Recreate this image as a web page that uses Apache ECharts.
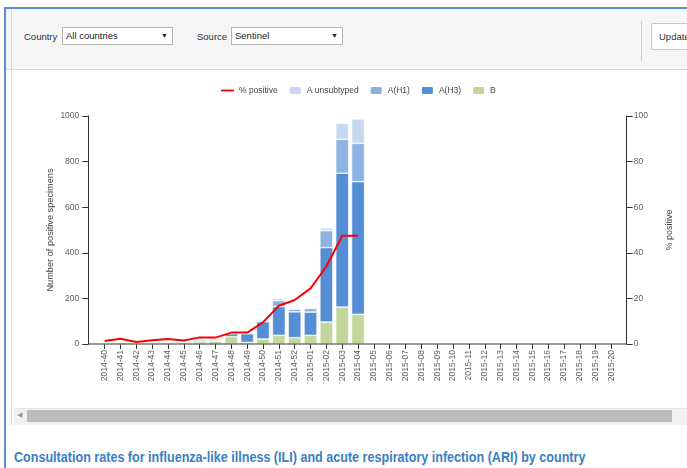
<!DOCTYPE html>
<html><head><meta charset="utf-8">
<script src="https://cdn.jsdelivr.net/npm/echarts@6/dist/echarts.min.js"></script>
<style>
html,body{margin:0;padding:0;width:687px;height:468px;overflow:hidden;background:#fff;font-family:"Liberation Sans",Arial,sans-serif;}
#frameTop{position:absolute;left:4px;top:7px;width:683px;height:2px;background:#5b8ed3;}
#frameLeft{position:absolute;left:4px;top:7px;width:2px;height:461px;background:#5b8ed3;}
#panel{position:absolute;left:11px;top:9px;width:680px;height:416px;border-left:1px solid #d9d9d9;background:#fff;}
#bar{position:absolute;left:6px;top:9px;width:681px;height:60px;background:#f6f6f6;border-bottom:1px solid #d9d9d9;}
#bar .inner{position:absolute;left:5px;top:0;width:1px;height:60px;background:#d9d9d9;}
.lbl{position:absolute;font-size:9.5px;color:#333;}
.sel{position:absolute;height:18px;background:#fff;border:1px solid #b5b5b5;box-sizing:border-box;font-size:9.5px;color:#222;line-height:16px;padding-left:3px;}
.sel span{position:absolute;right:4px;top:0;font-size:7px;}
#sep{position:absolute;left:641px;top:21px;width:1px;height:40px;background:#d0d0d0;}
#upd{position:absolute;left:651px;top:23px;width:50px;height:27px;background:#fff;border:1px solid #c8c8c8;box-sizing:border-box;font-size:9.5px;color:#333;line-height:25px;padding-left:7px;border-radius:2px;}
#track{position:absolute;left:14px;top:408px;width:673px;height:16px;background:#f1f1f1;border-top:1px solid #e6e6e6;}
#thumb{position:absolute;left:27px;top:410px;width:645px;height:12px;background:#bcbcbc;}
#arrow{position:absolute;left:17px;top:411px;font-size:7px;color:#999;}
#title{position:absolute;left:14px;top:449px;font-family:"Liberation Sans",sans-serif;font-weight:bold;font-size:14px;color:#3a80c3;white-space:nowrap;transform:scaleX(0.898);transform-origin:0 0;}
#chart{position:absolute;left:0;top:0;width:687px;height:468px;}
</style></head>
<body>
<div id="panel"></div>
<div id="bar"><div class="inner"></div></div>
<div id="frameTop"></div><div id="frameLeft"></div>
<div class="lbl" style="left:24px;top:31px;">Country</div>
<div class="sel" style="left:62px;top:27px;width:111px;">All countries<span>▼</span></div>
<div class="lbl" style="left:197px;top:31px;">Source</div>
<div class="sel" style="left:231px;top:27px;width:112px;">Sentinel<span>▼</span></div>
<div id="sep"></div>
<div id="upd">Update</div>
<div id="track"></div><div id="thumb"></div><div id="arrow">◀</div>
<div id="title">Consultation rates for influenza-like illness (ILI) and acute respiratory infection (ARI) by country</div>
<div id="chart"></div>
<script>
const weeks = ['2014-40','2014-41','2014-42','2014-43','2014-44','2014-45','2014-46','2014-47','2014-48','2014-49','2014-50','2014-51','2014-52',
  '2015-01','2015-02','2015-03','2015-04','2015-05','2015-06','2015-07','2015-08','2015-09','2015-10','2015-11','2015-12','2015-13','2015-14',
  '2015-15','2015-16','2015-17','2015-18','2015-19','2015-20'];
const typeB       = [0,1,1,1,2,2,10,13,32,7,22,38,28,38,96,162,130];
const typeAH3     = [4,5,4,5,6,6,7,4,13,38,76,126,113,102,327,587,582];
const typeAH1     = [0,2,1,2,2,2,3,6,4,2,7,26,12,16,74,149,168];
const typeAUnsub  = [0,0,0,0,0,0,0,0,1,0,3,10,4,4,12,70,107];
const pctPositive = [1.3,2.3,0.9,1.6,2.2,1.5,2.9,2.8,5,5,9.5,16.8,19.3,24.4,34,47.5,47.5];
const leftTicks = [0,200,400,600,800,1000];
const rightTicks = [0,20,40,60,80,100];

function pad(a){ const r = a.slice(); while (r.length < weeks.length) r.push(null); return r; }

const FONT = 'Liberation Sans';
const axisCol = '#333';
const labCol = '#606060';
const chart = echarts.init(document.getElementById('chart'), null, {renderer:'canvas'});
function barSeries(name, data, color){
  return {name:name, type:'bar', stack:'s', barWidth:13, data:pad(data),
    itemStyle:{color:color, borderColor:'#fff', borderWidth:0.6}, emphasis:{disabled:true}};
}
chart.setOption({
  animation:false,
  backgroundColor:'transparent',
  textStyle:{fontFamily:FONT},
  legend:{
    left:216, top:80, itemWidth:13, itemHeight:9, itemGap:10, symbolKeepAspect:true,
    textStyle:{fontSize:8.5, color:'#444', fontFamily:FONT},
    data:[{name:'% positive', icon:'path://M0,0h14v2H0z', itemStyle:{color:'#ff0000'}},'A unsubtyped','A(H1)','A(H3)','B']
  },
  grid:{left:96.7, right:67.6, top:116, bottom:124, containLabel:false},
  xAxis:{
    type:'category', data:weeks, boundaryGap:true,
    axisLine:{show:false},
    axisTick:{show:true, alignWithLabel:true, length:5, lineStyle:{color:axisCol}},
    axisLabel:{rotate:90, fontSize:8.5, color:labCol, margin:6, interval:0, fontFamily:FONT},
    splitLine:{show:false}
  },
  yAxis:[
    {type:'value', min:leftTicks[0], max:leftTicks[leftTicks.length-1], interval:200, offset:8.4,
     name:'Number of positive specimens', nameLocation:'middle', nameRotate:90, nameGap:33, nameMoveOverlap:false,
     nameTextStyle:{fontSize:9.2, color:'#444', fontFamily:FONT},
     axisLine:{show:true, lineStyle:{color:axisCol}},
     axisTick:{show:true, length:6, lineStyle:{color:axisCol}},
     axisLabel:{fontSize:8.5, color:labCol, margin:9, fontFamily:FONT, formatter:function(v){return String(v);}},
     splitLine:{show:false}},
    {type:'value', min:rightTicks[0], max:rightTicks[rightTicks.length-1], interval:20, offset:7.3, position:'right',
     name:'% positive', nameLocation:'middle', nameRotate:90, nameGap:38, nameMoveOverlap:false,
     nameTextStyle:{fontSize:9, color:'#444', fontFamily:FONT},
     axisLine:{show:true, lineStyle:{color:axisCol}},
     axisTick:{show:true, length:6, lineStyle:{color:axisCol}},
     axisLabel:{fontSize:8.5, color:labCol, margin:7, fontFamily:FONT, formatter:function(v){return String(v);}},
     splitLine:{show:false}}
  ],
  graphic:[{type:'line', shape:{x1:88.3, y1:344, x2:627, y2:344}, style:{stroke:axisCol, lineWidth:1}, silent:true, z:5}],
  series:[
    barSeries('B', typeB, '#c3d69b'),
    barSeries('A(H3)', typeAH3, '#558ed5'),
    barSeries('A(H1)', typeAH1, '#8db3e2'),
    barSeries('A unsubtyped', typeAUnsub, '#c6d9f1'),
    {name:'% positive', type:'line', yAxisIndex:1, data:pad(pctPositive), symbol:'none', z:10,
     lineStyle:{color:'#ff0000', width:2}, itemStyle:{color:'#ff0000'}, emphasis:{disabled:true}}
  ]
});
</script>
</body></html>
